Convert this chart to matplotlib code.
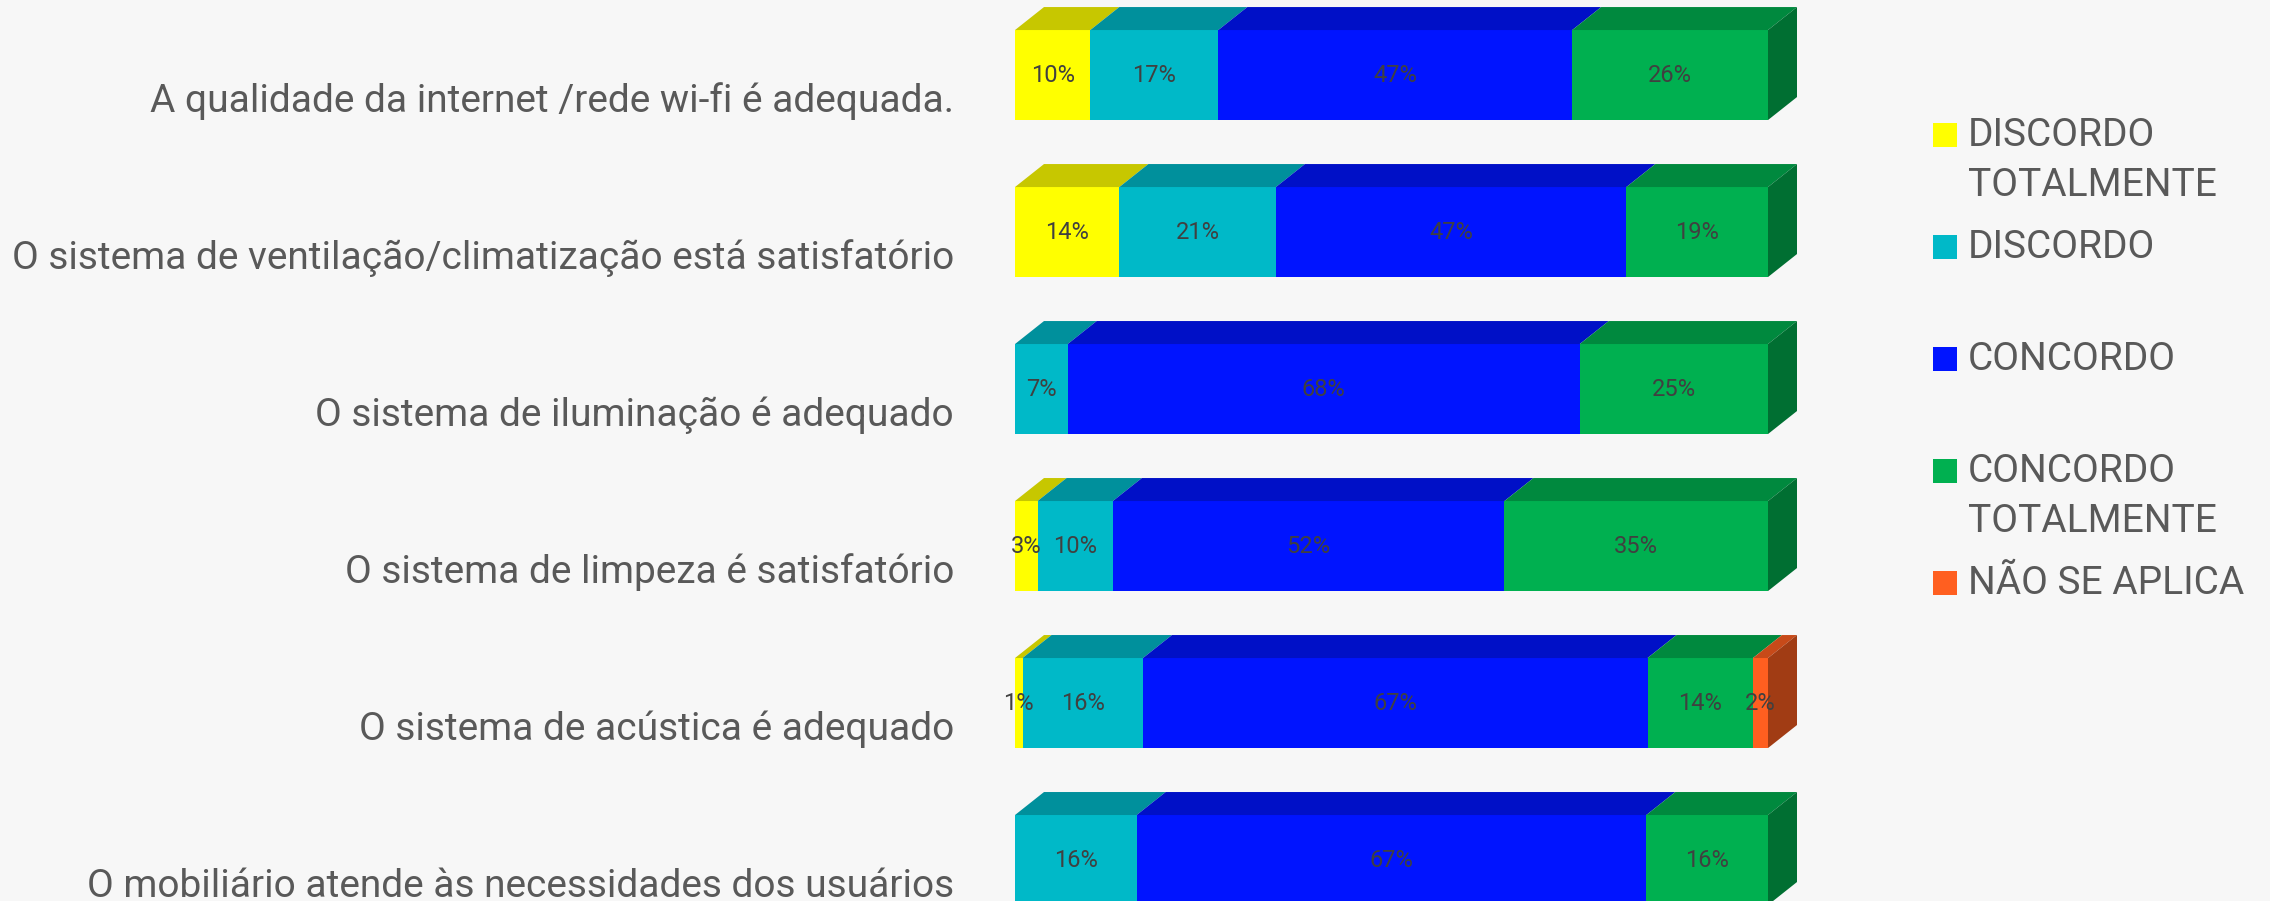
import numpy as np
import matplotlib.pyplot as plt
from matplotlib.patches import Polygon, Rectangle
from matplotlib.colors import to_rgb

# Data
categories = [
    'A qualidade da internet /rede wi-fi é adequada.',
    'O sistema de ventilação/climatização está satisfatório',
    'O sistema de iluminação é adequado',
    'O sistema de limpeza é satisfatório',
    'O sistema de acústica é adequado',
    'O mobiliário atende às necessidades dos usuários',
]
series = ['DISCORDO\nTOTALMENTE', 'DISCORDO', 'CONCORDO', 'CONCORDO\nTOTALMENTE', 'NÃO SE APLICA']
discordo_total = [10, 14, 0, 3, 1, 0]
discordo = [17, 21, 7, 10, 16, 16]
concordo = [47, 47, 68, 52, 67, 67]
concordo_total = [26, 19, 25, 35, 14, 16]
nao_aplica = [0, 0, 0, 0, 2, 0]
colors = ['#FFFF00', '#00B9C8', '#0014FF', '#00B050', '#FF5F20']

values = np.array([discordo_total, discordo, concordo, concordo_total, nao_aplica], dtype=float)
shares = values / values.sum(axis=0) * 100  # 100% stacked


def shade(c, f):
    return tuple(v * f for v in to_rgb(c))


W, H = 2270, 901
bg = '#f7f7f7'
fig = plt.figure(figsize=(W / 100, H / 100), dpi=100, facecolor=bg)
ax = fig.add_axes([1015 / W, 0, 753 / W, 1])
ax.set_facecolor('none')
ax.set_xlim(0, 100)
ax.set_ylim(5.261, -0.478)

bar_h = 90 / 157
dx = 29 / 753 * 100
dy = 23 / 157
y = np.arange(len(categories))

# front faces
lefts = np.zeros(len(categories))
for j, name in enumerate(series):
    ax.barh(y, shares[j], left=lefts, height=bar_h, color=colors[j], linewidth=0)
    lefts += shares[j]

# top and side faces (3D look) + data labels
for i in range(len(categories)):
    top = i - bar_h / 2
    bot = i + bar_h / 2
    left = 0
    last = None
    for j in range(len(series)):
        w = shares[j, i]
        if w == 0:
            continue
        ax.add_patch(Polygon([(left, top), (left + w, top), (left + w + dx, top - dy), (left + dx, top - dy)],
                             closed=True, color=shade(colors[j], 0.78), linewidth=0, clip_on=False))
        ax.text(left + w / 2, i, f'{int(values[j, i])}%', ha='center', va='center',
                fontsize=17, color='#404040', family='Roboto')
        left += w
        last = j
    ax.add_patch(Polygon([(left, top), (left, bot), (left + dx, bot - dy), (left + dx, top - dy)],
                         closed=True, color=shade(colors[last], 0.63), linewidth=0, clip_on=False))

# category labels
ax.set_yticks(y + 22 / 157)
ax.set_yticklabels(categories, fontsize=28, color='#595959', family='Roboto')
ax.tick_params(axis='y', length=0, pad=44)
ax.set_xticks([])
for s in ax.spines.values():
    s.set_visible(False)

# legend
for j, name in enumerate(series):
    yc = 135 + 112 * j
    fig.add_artist(Rectangle((1933 / W, 1 - (yc + 12) / H), 24 / W, 24 / H,
                             transform=fig.transFigure, color=colors[j], linewidth=0))
    for k, line in enumerate(name.split('\n')):
        fig.text(1968 / W, 1 - (yc + 50 * k) / H, line, ha='left', va='center',
                 fontsize=28, color='#595959', family='Roboto')

fig.savefig('out.png', dpi=100, facecolor=bg)
